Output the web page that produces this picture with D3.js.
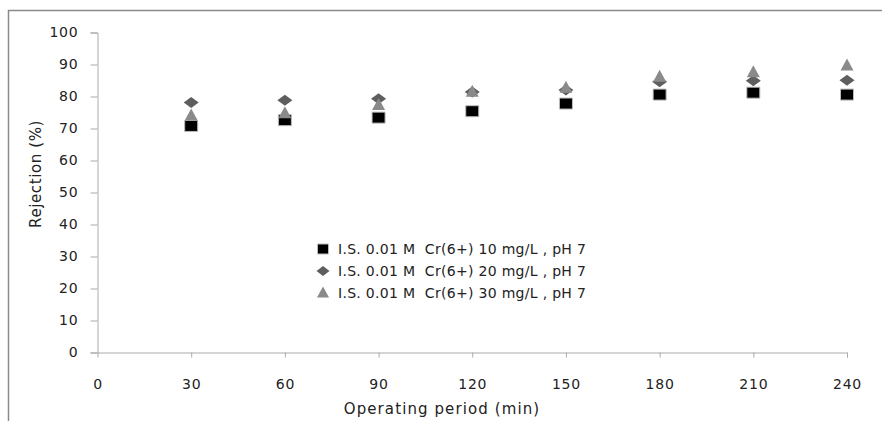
<!DOCTYPE html>
<html><head><meta charset="utf-8">
<script src="https://cdn.jsdelivr.net/npm/d3@7"></script>
<style>body{margin:0;background:#fff}svg{display:block}text{font-family:"DejaVu Sans",Verdana,sans-serif;fill:#222;white-space:pre}</style>
</head><body>
<svg id="c" width="882" height="421"></svg>
<script>
const times = [30, 60, 90, 120, 150, 180, 210, 240];
const cr10 = [70.8, 72.6, 73.4, 75.4, 77.8, 80.6, 81.2, 80.6];
const cr20 = [78.1, 78.8, 79.3, 81.4, 82.0, 84.6, 84.9, 85.1];
const cr30 = [74.0, 74.7, 77.3, 81.4, 82.7, 86.1, 87.5, 89.6];
const seriesNames = ["I.S. 0.01 M  Cr(6+) 10 mg/L , pH 7", "I.S. 0.01 M  Cr(6+) 20 mg/L , pH 7", "I.S. 0.01 M  Cr(6+) 30 mg/L , pH 7"];
const xTicks = [0, 30, 60, 90, 120, 150, 180, 210, 240];
const yTicks = [0, 10, 20, 30, 40, 50, 60, 70, 80, 90, 100];

const svg = d3.select("#c");
// outer frame
svg.append("path").attr("d","M8.5,430V10.5H890").attr("fill","none").attr("stroke","#8a8a8a").attr("stroke-width",1.5);

const x = d3.scaleLinear().domain([0,240]).range([97.5,847]);
const y = d3.scaleLinear().domain([0,100]).range([352.5,32.5]);

const gy = svg.append("g").attr("transform","translate(97.5,0)")
  .call(d3.axisLeft(y).tickValues(yTicks).tickSize(7).tickPadding(12));
const gx = svg.append("g").attr("transform","translate(0,352.5)")
  .call(d3.axisBottom(x).tickValues(xTicks).tickSize(5).tickPadding(22));
[gy,gx].forEach(g=>{
  g.select(".domain").attr("stroke","#aaa");
  g.selectAll(".tick line").attr("stroke","#aaa");
  g.selectAll(".tick text").style("font-size","14px").style("letter-spacing","0.8px").attr("fill","#222").style("font-family","DejaVu Sans, sans-serif");
});
gx.selectAll(".tick line").filter(d=>d===0).remove();

svg.append("text").attr("x",442).attr("y",414).attr("text-anchor","middle").style("font-size","15px").style("letter-spacing","1.1px").text("Operating period (min)");
svg.append("text").attr("transform","translate(41,174) rotate(-90)").attr("text-anchor","middle").style("font-size","15px").style("letter-spacing","0.6px").text("Rejection (%)");

function diamondPath(w,h){return `M0,${-h/2}L${w/2},0L0,${h/2}L${-w/2},0Z`;}
function triPath(w,h){return `M0,${-h*0.6}L${w/2},${h*0.4}L${-w/2},${h*0.4}Z`;}
function sqPath(w,h){return `M${-w/2},${-h/2}h${w}v${h}h${-w}Z`;}

const series = [
  {vals:cr10, path:sqPath(13,11), fill:"#000", stroke:"#bbb"},
  {vals:cr20, path:diamondPath(15,11), fill:"#5e5e5e", stroke:"none"},
  {vals:cr30, path:triPath(13,12), fill:"#8a8a8a", stroke:"none"}
];
series.forEach(s=>{
  svg.append("g").selectAll("path").data(times).join("path")
    .attr("d",s.path)
    .attr("transform",(t,i)=>`translate(${x(t)},${y(s.vals[i])})`)
    .attr("fill",s.fill).attr("stroke",s.stroke).attr("stroke-width",1);
});

// legend
const lg = svg.append("g").attr("transform","translate(323,249)");
series.forEach((s,i)=>{
  const r = lg.append("g").attr("transform",`translate(0,${i*22})`);
  r.append("path").attr("d", i===0?sqPath(11,10):(i===1?diamondPath(13,10):triPath(12,11)))
    .attr("fill",s.fill).attr("stroke",s.stroke);
  r.append("text").attr("x",15).attr("y",5).style("font-size","14px").style("letter-spacing","0.3px").text(seriesNames[i]);
});
</script>
</body></html>
